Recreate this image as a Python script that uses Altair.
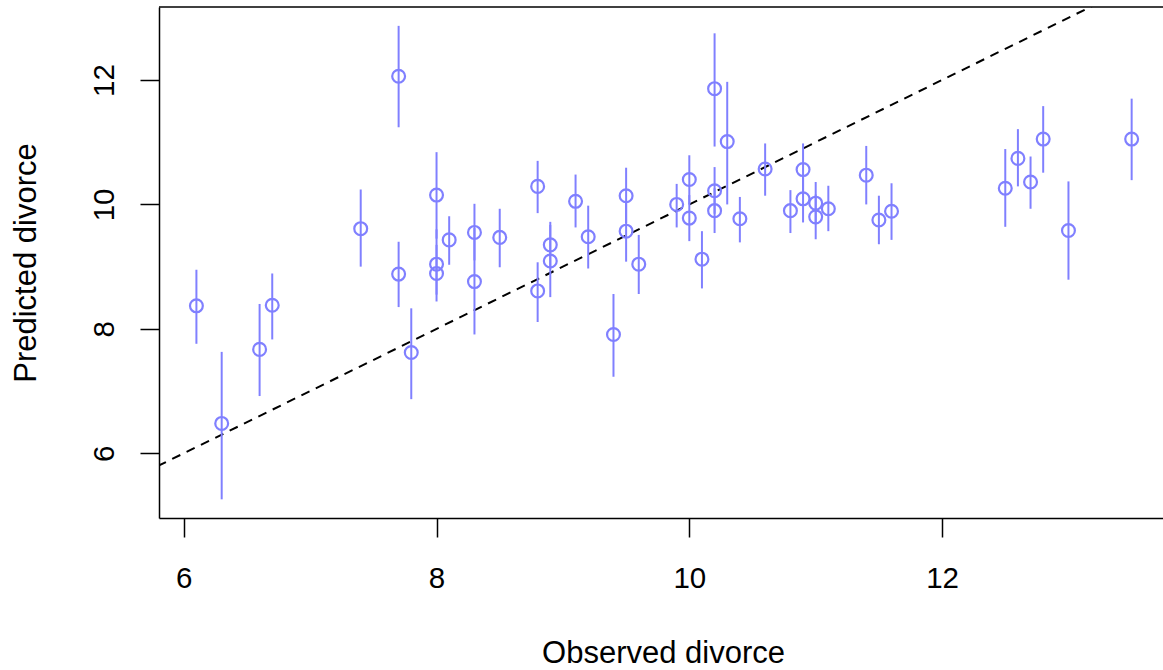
import altair as alt
import pandas as pd

observed = [6.1, 6.3, 6.6, 6.7, 7.4, 7.7, 7.7, 7.8, 8.0, 8.0, 8.0, 8.1, 8.3, 8.3, 8.5,
            8.8, 8.8, 8.9, 8.9, 9.1, 9.2, 9.4, 9.5, 9.5, 9.6, 9.9, 10.0, 10.0, 10.1,
            10.2, 10.2, 10.2, 10.3, 10.4, 10.6, 10.8, 10.9, 10.9, 11.0, 11.0, 11.1,
            11.4, 11.5, 11.6, 12.5, 12.6, 12.7, 12.8, 13.0, 13.5]
predicted = [8.37, 6.48, 7.67, 8.38, 9.61, 12.06, 8.88, 7.62, 10.15, 9.04, 8.89, 9.43,
             9.55, 8.76, 9.47, 10.29, 8.61, 9.35, 9.09, 10.05, 9.48, 7.91, 10.14, 9.57,
             9.04, 10.0, 10.40, 9.78, 9.12, 11.86, 10.22, 9.90, 11.01, 9.77, 10.57,
             9.90, 10.56, 10.09, 10.02, 9.80, 9.93, 10.47, 9.75, 9.89, 10.26, 10.74,
             10.36, 11.05, 9.58, 11.05]
lower = [7.76, 5.26, 6.92, 7.83, 9.00, 11.24, 8.35, 6.87, 9.45, 8.55, 8.44, 9.03, 9.10,
         7.91, 8.99, 9.86, 8.11, 8.97, 8.51, 9.63, 8.97, 7.23, 9.70, 9.08, 8.56, 9.63,
         10.00, 9.41, 8.65, 10.93, 9.85, 9.54, 10.00, 9.39, 10.14, 9.54, 10.15, 9.71,
         9.68, 9.44, 9.57, 10.00, 9.36, 9.43, 9.64, 10.29, 9.93, 10.51, 8.79, 10.39]
upper = [8.95, 7.63, 8.40, 8.89, 10.24, 12.87, 9.40, 8.33, 10.84, 9.60, 9.35, 9.81,
         10.01, 9.62, 9.93, 10.70, 9.07, 9.72, 9.67, 10.48, 9.98, 8.56, 10.59, 10.05,
         9.51, 10.33, 10.79, 10.15, 9.57, 12.75, 10.60, 10.26, 11.97, 10.12, 10.98,
         10.23, 10.98, 10.47, 10.36, 10.16, 10.30, 10.94, 10.14, 10.34, 10.89, 11.21,
         10.77, 11.58, 10.37, 11.70]

x_domain = [5.804, 13.748]
y_domain = [4.960, 13.173]
ticks = [6, 8, 10, 12]
ref_line = [5.0, 14.5]  # y = x

df = pd.DataFrame({"obs": observed, "pred": predicted, "lo": lower, "hi": upper})
line_df = pd.DataFrame({"x": ref_line, "y": ref_line})

FONT = "Liberation Sans"
BLUE = "#8080FF"
W, H = 1004, 511

xscale = alt.Scale(domain=x_domain, nice=False, zero=False)
yscale = alt.Scale(domain=y_domain, nice=False, zero=False)

xaxis = alt.Axis(values=ticks, format="d", title="Observed divorce", grid=False,
                 domain=True, domainColor="black", domainWidth=1.5,
                 ticks=True, tickSize=19, tickWidth=1.5, tickColor="black",
                 labelFont=FONT, labelFontSize=29.5, labelColor="black", labelPadding=27,
                 labelBaseline="top", labelFlush=False, labelOverlap=False,
                 titleFont=FONT, titleFontSize=31, titleFontWeight="normal",
                 titleColor="black", titleX=504, titleY=144, titleAlign="center",
                 titleBaseline="alphabetic", titleAnchor="middle")
yaxis = alt.Axis(values=ticks, format="d", title="Predicted divorce", grid=False,
                 domain=True, domainColor="black", domainWidth=1.5,
                 ticks=True, tickSize=19, tickWidth=1.5, tickColor="black",
                 labelFont=FONT, labelFontSize=29.5, labelColor="black", labelPadding=27,
                 labelAngle=270, labelAlign="center", labelBaseline="alphabetic",
                 labelFlush=False, labelOverlap=False,
                 titleFont=FONT, titleFontSize=31, titleFontWeight="normal",
                 titleColor="black", titleAngle=270, titleX=-124, titleY=255.5,
                 titleAlign="center", titleBaseline="alphabetic")

bars = alt.Chart(df).mark_rule(color=BLUE, strokeWidth=2).encode(
    x=alt.X("obs:Q", scale=xscale, axis=xaxis),
    y=alt.Y("lo:Q", scale=yscale, axis=yaxis),
    y2="hi:Q",
)

pts = alt.Chart(df).mark_point(shape="circle", filled=False, color=BLUE,
                               size=165, strokeWidth=2.2, opacity=1).encode(
    x=alt.X("obs:Q", scale=xscale),
    y=alt.Y("pred:Q", scale=yscale),
)

line = alt.Chart(line_df).mark_line(color="black", strokeWidth=2,
                                    strokeDash=[9, 7], clip=True).encode(
    x=alt.X("x:Q", scale=xscale),
    y=alt.Y("y:Q", scale=yscale),
)

top_border = alt.Chart(pd.DataFrame({"a": [0]})).mark_rule(
    color="black", strokeWidth=1.5).encode(
    x=alt.value(0), x2=alt.value(W + 20), y=alt.value(0)
)

chart = alt.layer(line, bars, pts, top_border).properties(
    width=W, height=H,
    padding={"left": 159, "top": 7, "right": 0, "bottom": 152},
    autosize=alt.AutoSizeParams(type="none"),
    background="white",
).configure_view(stroke=None)

chart.save("out.html", embed_options={"renderer": "svg", "actions": False})
